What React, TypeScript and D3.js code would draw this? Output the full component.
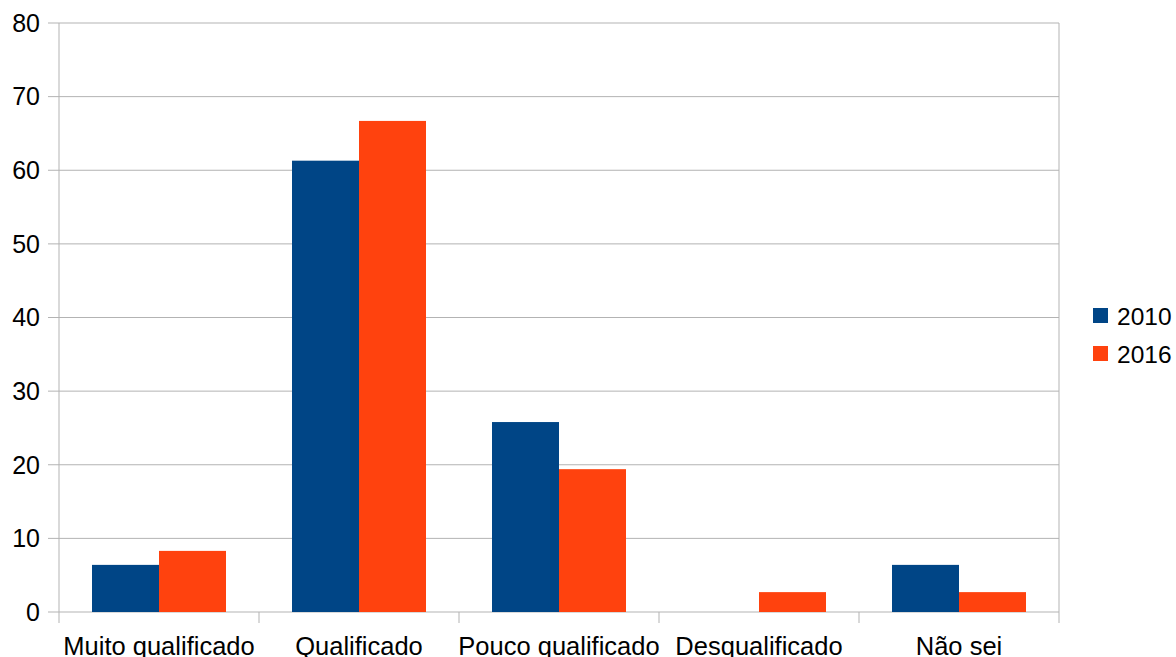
import React from "react";
import * as d3 from "d3";

const categories = ["Muito qualificado", "Qualificado", "Pouco qualificado", "Desqualificado", "Não sei"];
const series2010 = [6.4, 61.3, 25.8, 0, 6.4];
const series2016 = [8.3, 66.7, 19.4, 2.7, 2.7];
const seriesNames = ["2010", "2016"];
const colors = ["#004586", "#ff420e"];
const yTicks = [0, 10, 20, 30, 40, 50, 60, 70, 80];

export default function App() {
  const W = 1176, H = 657;
  const left = 59, right = 1059, top = 23, bottom = 612;
  const x = d3.scaleBand<string>().domain(categories).range([left, right]).paddingInner(0).paddingOuter(0);
  const y = d3.scaleLinear().domain([0, 80]).range([bottom, top]);
  const bw = x.bandwidth();
  const barW = bw * 0.335;
  const font = "'Liberation Sans', Arial, sans-serif";
  const seriesVals = [series2010, series2016];
  const boundaries = d3.range(categories.length + 1).map((i) => left + i * bw);

  return (
    <svg width={W} height={H} style={{ position: "absolute", left: 0, top: 0 }} fontFamily={font}>
      <rect x={0} y={0} width={W} height={H} fill="#fff" />
      {yTicks.map((t) => (
        <g key={t}>
          <line x1={left - 11} x2={right} y1={y(t)} y2={y(t)} stroke="#b3b3b3" strokeWidth={1} />
          <text x={40} y={y(t)} dy="0.35em" textAnchor="end" fontSize={25} fill="#000">{t}</text>
        </g>
      ))}
      {boundaries.map((b, i) => (
        <line key={i} x1={b} x2={b} y1={i === 0 || i === categories.length ? top : bottom} y2={bottom + 11} stroke="#b3b3b3" strokeWidth={1} />
      ))}
      {categories.map((c, ci) => (
        <g key={c}>
          {seriesVals.map((vals, si) => (
            <rect
              key={si}
              x={(x(c) as number) + bw / 2 - barW + si * barW}
              y={y(vals[ci])}
              width={barW}
              height={bottom - y(vals[ci])}
              fill={colors[si]}
            />
          ))}
          <text x={(x(c) as number) + bw / 2} y={655} textAnchor="middle" fontSize={25.5} fill="#000">{c}</text>
        </g>
      ))}
      {seriesNames.map((s, i) => (
        <g key={s}>
          <rect x={1093} y={308 + i * 38} width={15} height={15} fill={colors[i]} />
          <text x={1117} y={316 + i * 38} dy="0.35em" fontSize={24.5} fill="#000">{s}</text>
        </g>
      ))}
    </svg>
  );
}
